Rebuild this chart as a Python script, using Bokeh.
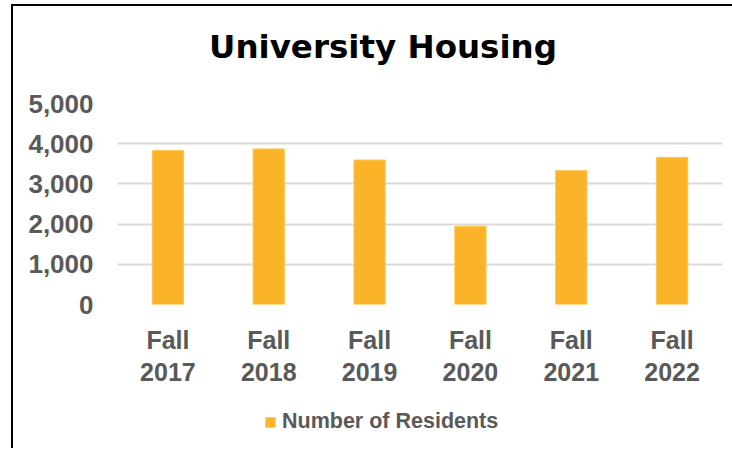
from bokeh.plotting import figure
from bokeh.models import Range1d, FactorRange, Legend, LegendItem, NumeralTickFormatter, FixedTicker, Label, Spacer
from bokeh.layouts import column, row
from bokeh.embed import file_html
from bokeh.resources import INLINE

categories = ["Fall\n2017", "Fall\n2018", "Fall\n2019", "Fall\n2020", "Fall\n2021", "Fall\n2022"]
residents = [3830, 3870, 3595, 1945, 3330, 3660]
y_ticks = [0, 1000, 2000, 3000, 4000, 5000]
series_name = "Number of Residents"
title_text = "University Housing"
bar_color = "#FBB42A"
bar_edge = "#FCC651"

# title strip
t = figure(width=717, height=80, x_range=Range1d(0, 1), y_range=Range1d(0, 1),
           output_backend="svg", toolbar_location=None, x_axis_type=None, y_axis_type=None,
           min_border=0)
t.outline_line_color = None
t.grid.visible = False
t.add_layout(Label(x=265.5, y=40, x_units="screen", y_units="screen", text=title_text,
                   text_font="DejaVu Sans", text_font_style="bold", text_font_size="32.5px",
                   text_color="black", text_align="center", text_baseline="alphabetic"))

# main chart
p = figure(width=717, height=303, x_range=FactorRange(*categories), y_range=Range1d(0, 5000),
           output_backend="svg", toolbar_location=None, title=None,
           min_border_left=104, min_border_right=8, min_border_top=17, min_border_bottom=85)
p.outline_line_color = None
p.background_fill_color = "white"
p.border_fill_color = "white"

r = p.vbar(x=categories, top=residents, width=0.31, fill_color=bar_color, line_color=bar_edge, line_width=1)

p.xgrid.grid_line_color = None
p.ygrid.grid_line_color = "#D9D9D9"
p.ygrid.grid_line_width = 2
p.yaxis.ticker = FixedTicker(ticks=y_ticks)
p.yaxis.formatter = NumeralTickFormatter(format="0,0")
for ax in (p.xaxis[0], p.yaxis[0]):
    ax.axis_line_color = None
    ax.major_tick_line_color = None
    ax.minor_tick_line_color = None
    ax.major_tick_out = 0
    ax.major_tick_in = 0
    ax.minor_tick_out = 0
    ax.major_label_text_font = "Liberation Sans"
    ax.major_label_text_font_style = "bold"
    ax.major_label_text_color = "#595959"
p.yaxis.major_label_text_font_size = "26px"
p.xaxis.major_label_text_font_size = "25px"
p.xaxis.major_label_text_line_height = 1.15
p.yaxis.major_label_standoff = 24
p.xaxis.major_label_standoff = 21

# legend strip (separate small figure so the legend is not clipped by the main frame)
q = figure(width=717, height=57, x_range=FactorRange(*categories), y_range=Range1d(0, 5000),
           output_backend="svg", toolbar_location=None, x_axis_type=None, y_axis_type=None,
           min_border=0)
q.outline_line_color = None
q.grid.visible = False
q.background_fill_color = "white"
q.border_fill_color = "white"
swatch = q.vbar(x=categories, top=residents, width=0.31, fill_color=bar_color, line_color=bar_edge, line_width=1)
swatch.visible = False
legend = Legend(items=[LegendItem(label=series_name, renderers=[swatch])], location=(147, 12),
                orientation="horizontal", glyph_width=12, glyph_height=12, label_standoff=6,
                padding=0, margin=0, border_line_color=None, background_fill_alpha=0,
                label_text_font="Liberation Sans", label_text_font_style="bold",
                label_text_font_size="21.5px", label_text_color="#595959")
q.add_layout(legend)

top_bar = Spacer(width=721, height=2, styles={"background-color": "black"})
left_bar = Spacer(width=2, height=442, styles={"background-color": "black"})
layout = column(Spacer(width=11, height=4),
                row(Spacer(width=11, height=2), top_bar),
                row(Spacer(width=11, height=442), left_bar, column(t, p, q)))

open("out.html", "w").write(file_html(layout, INLINE))
